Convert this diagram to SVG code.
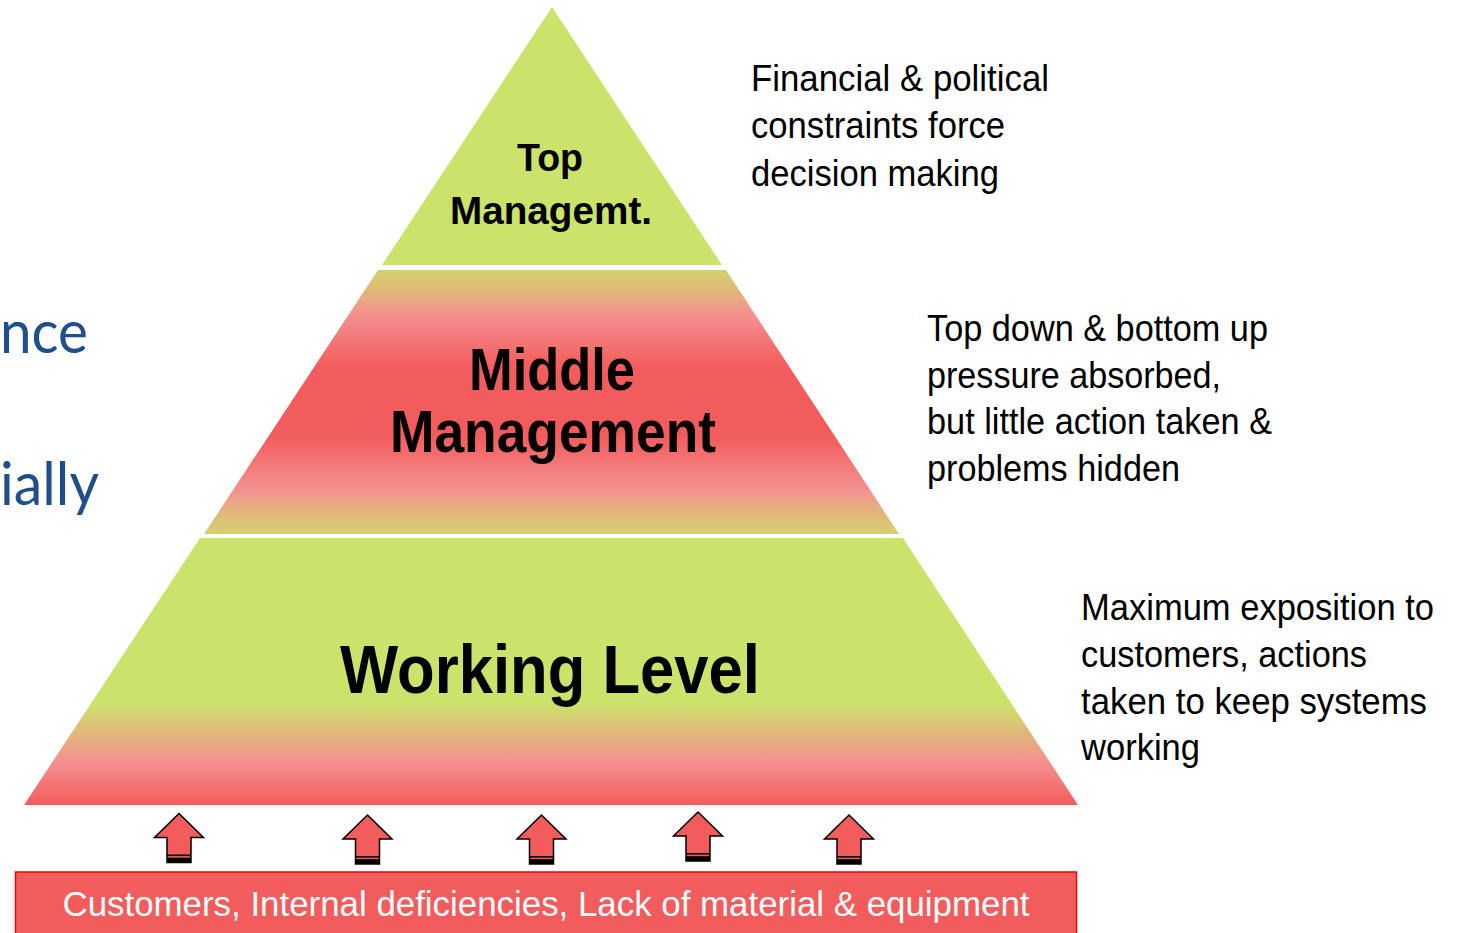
<svg xmlns="http://www.w3.org/2000/svg" width="1457" height="933" viewBox="0 0 1457 933">
  <style>
    .lvl { font-family: "Liberation Sans", Arial, sans-serif; font-weight: bold; fill: #000; text-anchor: middle; }
    .note { font-family: "Liberation Sans", Arial, sans-serif; font-size: 36px; fill: #000; }
    .side { font-family: Lato, "Open Sans", sans-serif; font-size: 60px; fill: #1f4e8a; }
    .base { font-family: "Liberation Sans", Arial, sans-serif; font-size: 35px; fill: #ffffff; text-anchor: middle; }
    .arrow-body { fill: #f35c5c; stroke: #000; stroke-width: 1.5; stroke-linejoin: miter; }
  </style>
  <defs>
    <linearGradient id="gMiddle" gradientUnits="userSpaceOnUse" x1="0" y1="270" x2="0" y2="534">
      <stop offset="0" stop-color="#d4d06e"/>
      <stop offset="0.07" stop-color="#dfbb78"/>
      <stop offset="0.17" stop-color="#f49090"/>
      <stop offset="0.37" stop-color="#f35c5c"/>
      <stop offset="0.63" stop-color="#f35c5c"/>
      <stop offset="0.83" stop-color="#f49090"/>
      <stop offset="0.93" stop-color="#dfbb78"/>
      <stop offset="1" stop-color="#d4d06e"/>
    </linearGradient>
    <linearGradient id="gWorking" gradientUnits="userSpaceOnUse" x1="0" y1="538" x2="0" y2="805">
      <stop offset="0" stop-color="#cbe36b"/>
      <stop offset="0.62" stop-color="#cbe36b"/>
      <stop offset="0.74" stop-color="#e2b47b"/>
      <stop offset="0.84" stop-color="#f59090"/>
      <stop offset="1" stop-color="#f35c5c"/>
    </linearGradient>
    <g id="upArrow">
      <polygon class="arrow-body" points="0,0 24.5,24 12,24 12,49 -12,49 -12,24 -24.5,24"/>
      <rect x="-12" y="41" width="24" height="1.6" fill="#000"/>
      <rect x="-12" y="44.2" width="24" height="4.8" fill="#000"/>
    </g>
  </defs>

  <g id="side-text">
    <text class="side" x="0" y="353" textLength="88" lengthAdjust="spacingAndGlyphs">nce</text>
    <text class="side" x="0" y="505" textLength="99" lengthAdjust="spacingAndGlyphs">ially</text>
  </g>

  <g id="node-top">
    <polygon points="552,7 722,265 382,265" fill="#cbe36b"/>
    <text class="lvl" x="550" y="171" font-size="39" textLength="66" lengthAdjust="spacingAndGlyphs">Top</text>
    <text class="lvl" x="551" y="224" font-size="39" textLength="202" lengthAdjust="spacingAndGlyphs">Managemt.</text>
  </g>

  <g id="node-middle">
    <polygon points="378,270 726,270 899,534 204,534" fill="url(#gMiddle)"/>
    <text class="lvl" x="552" y="390" font-size="59" textLength="166" lengthAdjust="spacingAndGlyphs">Middle</text>
    <text class="lvl" x="553" y="452" font-size="59" textLength="326" lengthAdjust="spacingAndGlyphs">Management</text>
  </g>

  <g id="node-working">
    <polygon points="200,538 903,538 1078,805 24,805" fill="url(#gWorking)"/>
    <text class="lvl" x="550" y="693" font-size="69" textLength="420" lengthAdjust="spacingAndGlyphs">Working Level</text>
  </g>

  <g id="node-base">
    <rect x="15.5" y="872" width="1061" height="70" fill="#f35c5c" stroke="#ff0000" stroke-width="1.5"/>
    <text class="base" x="546" y="916" textLength="967" lengthAdjust="spacingAndGlyphs">Customers, Internal deficiencies, Lack of material &amp; equipment</text>
  </g>

  <g id="connectors">
    <use href="#upArrow" transform="translate(179,813.5)"/>
    <use href="#upArrow" transform="translate(367.5,815)"/>
    <use href="#upArrow" transform="translate(541.5,815)"/>
    <use href="#upArrow" transform="translate(698,812)"/>
    <use href="#upArrow" transform="translate(849,815)"/>
  </g>

  <g id="note-top">
    <text class="note" x="751" y="91" textLength="298" lengthAdjust="spacingAndGlyphs">Financial &amp; political</text>
    <text class="note" x="751" y="138" textLength="254" lengthAdjust="spacingAndGlyphs">constraints force</text>
    <text class="note" x="751" y="185.5" textLength="248" lengthAdjust="spacingAndGlyphs">decision making</text>
  </g>

  <g id="note-middle">
    <text class="note" x="927" y="341" textLength="341" lengthAdjust="spacingAndGlyphs">Top down &amp; bottom up</text>
    <text class="note" x="927" y="387.5" textLength="294" lengthAdjust="spacingAndGlyphs">pressure absorbed,</text>
    <text class="note" x="927" y="434" textLength="345" lengthAdjust="spacingAndGlyphs">but little action taken &amp;</text>
    <text class="note" x="927" y="480.5" textLength="253" lengthAdjust="spacingAndGlyphs">problems hidden</text>
  </g>

  <g id="note-working">
    <text class="note" x="1081" y="620" textLength="353" lengthAdjust="spacingAndGlyphs">Maximum exposition to</text>
    <text class="note" x="1081" y="667" textLength="286" lengthAdjust="spacingAndGlyphs">customers, actions</text>
    <text class="note" x="1081" y="714" textLength="346" lengthAdjust="spacingAndGlyphs">taken to keep systems</text>
    <text class="note" x="1081" y="760" textLength="119" lengthAdjust="spacingAndGlyphs">working</text>
  </g>
</svg>
